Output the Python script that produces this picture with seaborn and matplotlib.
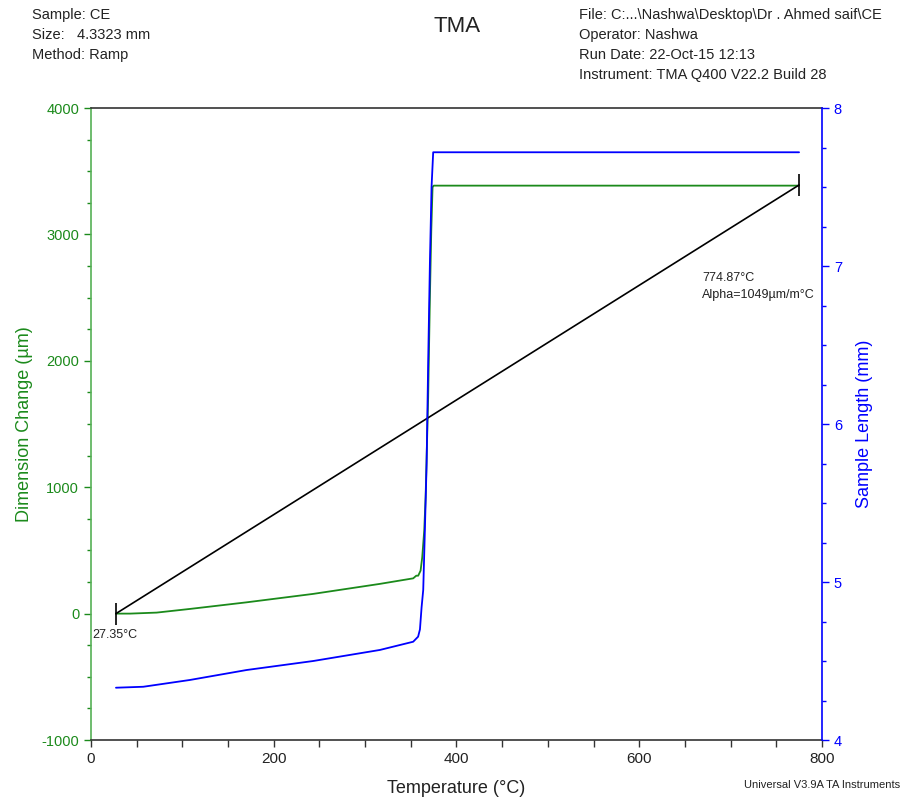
import numpy as np
import pandas as pd
import matplotlib
matplotlib.use("Agg")
import matplotlib.pyplot as plt
from matplotlib.ticker import MultipleLocator
import seaborn as sns

sns.set_style("ticks")
plt.rcParams['font.family'] = ['Liberation Sans', 'DejaVu Sans']
plt.rcParams['axes.unicode_minus'] = False

# ---- data ----
temp_dim = [27.35, 42.7, 71.9, 108.3, 170.0, 243.2, 316.0, 352.6, 356.0, 358.1,
            360.7, 362.5, 364.7, 366.2, 367.6, 369.0, 370.9, 372.4, 373.8, 375.0, 774.87]
dim_change = [0, 0, 8, 37, 89, 156, 235, 279, 300, 300,
              340, 445, 657, 920, 1316, 1711, 2502, 3030, 3373, 3386, 3386]

temp_len = [27.35, 57.2, 108.3, 170.3, 243.2, 316.2, 352.6, 356.3, 358.0, 360.0,
            361.8, 363.6, 365.4, 367.3, 369.0, 370.9, 372.7, 374.5, 774.87]
sample_len = [4.331, 4.337, 4.38, 4.443, 4.50, 4.57, 4.622, 4.644, 4.654, 4.70,
              4.84, 4.95, 5.33, 5.75, 6.386, 7.02, 7.50, 7.72, 7.72]

temp_fit = [27.35, 774.87]
dim_fit = [0, 3391]

x_ticks = [0, 200, 400, 600, 800]
left_ticks = [-1000, 0, 1000, 2000, 3000, 4000]
right_ticks = [4, 5, 6, 7, 8]

GREEN = '#1b8a1b'
GREEN_SPINE = '#55b055'
BLUE = '#0000ff'

df_dim = pd.DataFrame({'T': temp_dim, 'D': dim_change})
df_len = pd.DataFrame({'T': temp_len, 'L': sample_len})
df_fit = pd.DataFrame({'T': temp_fit, 'D': dim_fit})

fig = plt.figure(figsize=(9.07, 8.02), dpi=100)
ax = fig.add_axes([0.1003, 0.0773, 0.8060, 0.7880])
ax2 = ax.twinx()

sns.lineplot(data=df_dim, x='T', y='D', ax=ax, color=GREEN, lw=1.3,
             sort=False, estimator=None)
sns.lineplot(data=df_fit, x='T', y='D', ax=ax, color='black', lw=1.2,
             sort=False, estimator=None, marker='|', markersize=16,
             markeredgecolor='black', markeredgewidth=1.2)
sns.lineplot(data=df_len, x='T', y='L', ax=ax2, color=BLUE, lw=1.3,
             sort=False, estimator=None)

ax.set_xlim(0, 800)
ax.set_ylim(-1000, 4000)
ax2.set_ylim(4, 8)
ax.set_xticks(x_ticks)
ax.set_yticks(left_ticks)
ax2.set_yticks(right_ticks)
ax.xaxis.set_minor_locator(MultipleLocator(50))
ax.yaxis.set_minor_locator(MultipleLocator(250))
ax2.yaxis.set_minor_locator(MultipleLocator(0.25))

for a in (ax, ax2):
    for s in a.spines.values():
        s.set_linewidth(1.2)
ax.spines['top'].set_color('#333333')
ax.spines['bottom'].set_color('#333333')
ax.spines['left'].set_color(GREEN_SPINE)
ax.spines['right'].set_visible(False)
ax2.spines['left'].set_visible(False)
ax2.spines['top'].set_visible(False)
ax2.spines['bottom'].set_visible(False)
ax2.spines['right'].set_color(BLUE)

ax.tick_params(axis='x', which='major', length=5, width=1, colors='#333333',
               labelsize=11, labelcolor='#222222')
ax.tick_params(axis='x', which='minor', length=5, width=1, colors='#333333')
ax.tick_params(axis='y', which='major', length=5, width=1, colors=GREEN,
               labelsize=10.5, labelcolor=GREEN)
ax.tick_params(axis='y', which='minor', length=3, width=1, colors=GREEN)
ax2.tick_params(axis='y', which='major', length=5, width=1, colors=BLUE,
                labelsize=10.5, labelcolor=BLUE)
ax2.tick_params(axis='y', which='minor', length=3, width=1, colors=BLUE)

ax.set_xlabel('Temperature (°C)', fontsize=13, color='#222222', labelpad=10)
ax.set_ylabel('Dimension Change (µm)', fontsize=13, color=GREEN, labelpad=6)
ax2.set_ylabel('Sample Length (mm)', fontsize=13, color=BLUE, labelpad=10)

# annotations
ax.annotate('27.35°C', xy=(temp_fit[0], dim_fit[0]), xytext=(-17, -20),
            textcoords='offset points', fontsize=9, color='#222222', va='bottom')
ax.text(0.836, 0.727, '774.87°C', transform=ax.transAxes, fontsize=9, color='#222222')
ax.text(0.836, 0.699, 'Alpha=1049µm/m°C', transform=ax.transAxes, fontsize=9, color='#222222')

# header
hdr = dict(fontsize=10.5, color='#222222', va='center', ha='left')
fig.text(32/907, 1 - 15/802, 'Sample: CE', **hdr)
fig.text(32/907, 1 - 35/802, 'Size:   4.3323 mm', **hdr)
fig.text(32/907, 1 - 55/802, 'Method: Ramp', **hdr)
fig.text(579/907, 1 - 15/802, 'File: C:...\\Nashwa\\Desktop\\Dr . Ahmed saif\\CE', **hdr)
fig.text(579/907, 1 - 35/802, 'Operator: Nashwa', **hdr)
fig.text(579/907, 1 - 55/802, 'Run Date: 22-Oct-15 12:13', **hdr)
fig.text(579/907, 1 - 75/802, 'Instrument: TMA Q400 V22.2 Build 28', **hdr)
fig.text(457/907, 1 - 27/802, 'TMA', fontsize=16, color='#222222', ha='center', va='center')
fig.text(900/907, 1 - 785/802, 'Universal V3.9A TA Instruments', fontsize=8,
         color='#222222', ha='right', va='center')

fig.savefig('out.png', dpi=100)
